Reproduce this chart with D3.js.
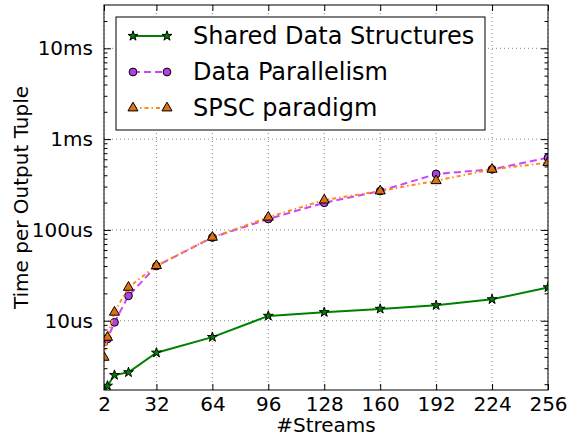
<!DOCTYPE html>
<html>
<head>
<meta charset="utf-8">
<script src="https://cdn.jsdelivr.net/npm/d3@7"></script>
<style>
  body { margin: 0; background: #fff; }
  text { font-family: "DejaVu Sans", sans-serif; fill: #000; }
</style>
</head>
<body>
<div id="chart"></div>
<script>
// stream counts on the x axis
var streams = [2, 4, 8, 16, 32, 64, 96, 128, 160, 192, 224, 256];

// time per output tuple, in microseconds
var sharedData = [1.4, 1.92, 2.52, 2.7, 4.44, 6.6, 11.3, 12.4, 13.5, 14.8, 17.2, 23.3];
var dataParallel = [5.8, 6.3, 9.6, 18.8, 40, 82.5, 132, 199, 268, 413, 465, 624];
var spscParadigm = [3.95, 6.56, 12.4, 23.3, 40.4, 82.9, 138, 213, 268, 348, 465, 550];

var seriesNames = ["Shared Data Structures", "Data Parallelism", "SPSC paradigm"];

var xTicks = [2, 32, 64, 96, 128, 160, 192, 224, 256];
var yTicks = [10, 100, 1000, 10000];
var yTickLabels = ["10us", "100us", "1ms", "10ms"];

var svgWidth = 570, svgHeight = 436;
var margin = { top: 5, right: 22, bottom: 46, left: 104 };
var width = svgWidth - margin.left - margin.right;
var height = svgHeight - margin.top - margin.bottom;

var svg = d3.select("#chart").append("svg")
  .attr("width", svgWidth)
  .attr("height", svgHeight);

var chartGroup = svg.append("g")
  .attr("transform", `translate(${margin.left}, ${margin.top})`);

var x = d3.scaleLinear().domain([2, 256]).range([0, width]);
var y = d3.scaleLog().domain([1.726, 29990]).range([height, 0]);

// clip everything to the axes box
chartGroup.append("clipPath").attr("id", "clip")
  .append("rect").attr("width", width).attr("height", height);

// dotted grid
chartGroup.append("g").selectAll("line")
  .data(xTicks).enter().append("line")
  .attr("x1", d => x(d)).attr("x2", d => x(d))
  .attr("y1", 0).attr("y2", height)
  .attr("stroke", "#888").attr("stroke-width", 1)
  .attr("stroke-dasharray", "1,3");
chartGroup.append("g").selectAll("line")
  .data(yTicks).enter().append("line")
  .attr("x1", 0).attr("x2", width)
  .attr("y1", d => y(d)).attr("y2", d => y(d))
  .attr("stroke", "#888").attr("stroke-width", 1)
  .attr("stroke-dasharray", "1,3");

// minor log ticks
var minorTicks = [];
[1, 10, 100, 1000, 10000].forEach(function(dec) {
  for (var k = 2; k <= 9; k++) {
    var v = dec * k;
    if (v > y.domain()[0] && v < y.domain()[1]) minorTicks.push(v);
  }
});

// axes with inward ticks
var bottomAxis = d3.axisBottom(x).tickValues(xTicks).tickSize(-6).tickPadding(7);
var topAxis = d3.axisTop(x).tickValues(xTicks).tickSize(-6).tickFormat("");
var leftAxis = d3.axisLeft(y).tickValues(yTicks).tickSize(-7).tickPadding(11)
  .tickFormat((d, i) => yTickLabels[i]);
var rightAxis = d3.axisRight(y).tickValues(yTicks).tickSize(-7).tickFormat("");
var leftMinor = d3.axisLeft(y).tickValues(minorTicks).tickSize(-3.5).tickFormat("");
var rightMinor = d3.axisRight(y).tickValues(minorTicks).tickSize(-3.5).tickFormat("");

function styleAxis(g) {
  g.select(".domain").remove();
  g.selectAll(".tick line").attr("stroke", "#000");
  g.selectAll("text").attr("font-size", "20px")
    .attr("font-family", "DejaVu Sans, sans-serif").attr("fill", "#000");
}

chartGroup.append("g").attr("transform", `translate(0, ${height})`).call(bottomAxis).call(styleAxis);
chartGroup.append("g").call(topAxis).call(styleAxis);
chartGroup.append("g").call(leftAxis).call(styleAxis);
chartGroup.append("g").attr("transform", `translate(${width}, 0)`).call(rightAxis).call(styleAxis);
chartGroup.append("g").call(leftMinor).call(styleAxis);
chartGroup.append("g").attr("transform", `translate(${width}, 0)`).call(rightMinor).call(styleAxis);

// series
var series = [
  { name: seriesNames[0], values: sharedData, color: "#008000", fill: "#008000", dash: null, marker: d3.symbolStar, size: 30 },
  { name: seriesNames[1], values: dataParallel, color: "#cc44ff", fill: "#b040e0", dash: "7,4", marker: d3.symbolCircle, size: 48 },
  { name: seriesNames[2], values: spscParadigm, color: "#ff8c1a", fill: "#e07010", dash: "4,3,1.5,3", marker: d3.symbolTriangle, size: 44 }
];

var line = d3.line()
  .x(d => x(d[0]))
  .y(d => y(d[1]));

var plot = chartGroup.append("g").attr("clip-path", "url(#clip)");

series.forEach(function(s) {
  var pts = streams.map((v, i) => [v, s.values[i]]);
  plot.append("path")
    .datum(pts)
    .attr("d", line)
    .attr("fill", "none")
    .attr("stroke", s.color)
    .attr("stroke-width", 2)
    .attr("stroke-dasharray", s.dash);
  plot.selectAll(null)
    .data(pts).enter().append("path")
    .attr("d", d3.symbol().type(s.marker).size(s.size))
    .attr("transform", d => `translate(${x(d[0])}, ${y(d[1])})`)
    .attr("fill", s.fill)
    .attr("stroke", "#000")
    .attr("stroke-width", 1);
});

// frame
chartGroup.append("rect")
  .attr("width", width).attr("height", height)
  .attr("fill", "none").attr("stroke", "#000").attr("stroke-width", 1);

// legend
var legend = chartGroup.append("g").attr("transform", "translate(12, 12)");
legend.append("rect")
  .attr("width", 369).attr("height", 113)
  .attr("fill", "#fff").attr("stroke", "#000").attr("stroke-width", 1);

series.forEach(function(s, i) {
  var row = legend.append("g").attr("transform", `translate(0, ${19 + i * 36})`);
  row.append("line")
    .attr("x1", 17).attr("x2", 51)
    .attr("stroke", s.color).attr("stroke-width", 2)
    .attr("stroke-dasharray", s.dash);
  [17, 51].forEach(function(px) {
    row.append("path")
      .attr("d", d3.symbol().type(s.marker).size(s.size))
      .attr("transform", `translate(${px}, 0)`)
      .attr("fill", s.fill).attr("stroke", "#000").attr("stroke-width", 1);
  });
  row.append("text")
    .attr("x", 77).attr("y", 0).attr("dy", "0.35em")
    .attr("font-size", "24px")
    .text(s.name);
});

// axis labels
chartGroup.append("text")
  .attr("transform", "rotate(-90)")
  .attr("x", -height / 2)
  .attr("y", -margin.left + 28)
  .attr("text-anchor", "middle")
  .attr("font-size", "20px")
  .text("Time per Output Tuple");

chartGroup.append("text")
  .attr("x", width / 2)
  .attr("y", height + 42)
  .attr("text-anchor", "middle")
  .attr("font-size", "20px")
  .text("#Streams");
</script>
</body>
</html>
